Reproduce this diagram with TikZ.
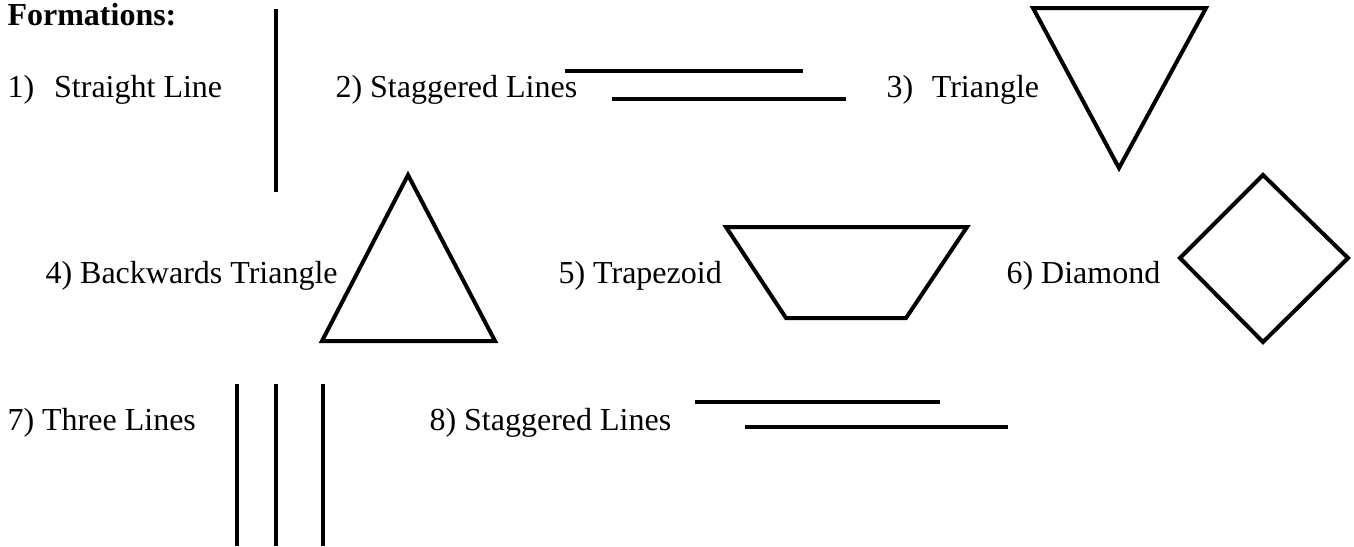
\documentclass[tikz,border=0pt]{standalone}
\usepackage{fontspec}
\setmainfont{Liberation Serif}
\usepackage{tikz}
\usetikzlibrary{positioning}

\begin{document}
\begin{tikzpicture}[
        x=0.375pt, y=-0.375pt,
        formtext/.style={anchor=base west, inner sep=0pt, font=\fontsize{12pt}{14pt}\selectfont},
        formline/.style={line width=1.5pt, line cap=butt}
    ]
        \useasboundingbox (0,0) rectangle (1354,546);

        % Heading
        \node[formtext, font=\fontsize{12pt}{14pt}\selectfont\bfseries] (title) at (7,25) {Formations:};

        % Row 1
        \node[formtext] (f1) at (7,97) {1)\hspace{7.5pt}Straight Line};
        \draw[formline] (276,9) -- (276,192);

        \node[formtext] (f2) at (335,97) {2) Staggered Lines};
        \draw[formline] (565,71) -- (803,71);
        \draw[formline] (612,99) -- (846,99);

        \node[formtext] (f3) at (886,97) {3)\hspace{7pt}Triangle};
        \draw[formline] (1033,8) -- (1206,8) -- (1119,168) -- cycle;

        % Row 2
        \node[formtext] (f4) at (45,283) {4) Backwards Triangle};
        \draw[formline] (408,175) -- (495,341) -- (322,341) -- cycle;

        \node[formtext] (f5) at (558,283) {5) Trapezoid};
        \draw[formline] (726,227) -- (967,227) -- (906,318) -- (786,318) -- cycle;

        \node[formtext] (f6) at (1006,283) {6) Diamond};
        \draw[formline] (1263,175) -- (1348,258) -- (1263,342) -- (1180,258) -- cycle;

        % Row 3
        \node[formtext] (f7) at (7,430) {7) Three Lines};
        \foreach \lx in {237,276,323}
            \draw[formline] (\lx,384) -- (\lx,546);

        \node[formtext] (f8) at (429,430) {8) Staggered Lines};
        \draw[formline] (695,402) -- (940,402);
        \draw[formline] (745,427) -- (1008,427);

    \end{tikzpicture}
\end{document}
